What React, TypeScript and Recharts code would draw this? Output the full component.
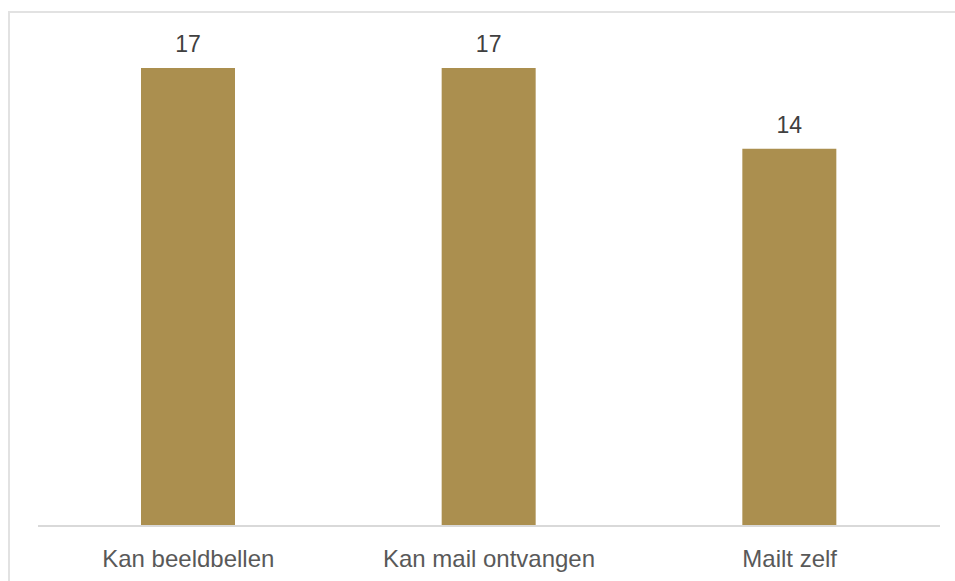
import { BarChart, Bar, XAxis, YAxis, LabelList } from "recharts";

const categories = ["Kan beeldbellen", "Kan mail ontvangen", "Mailt zelf"];
const values = [17, 17, 14];

const data = categories.map((name, i) => ({ name, value: values[i] }));

const FONT = "'Liberation Sans', Arial, Helvetica, sans-serif";

export default function App() {
  return (
    <div
      style={{
        position: "absolute",
        left: 0,
        top: 0,
        width: 955,
        height: 581,
        overflow: "hidden",
        background: "#fff",
      }}
    >
      <div
        style={{
          position: "absolute",
          left: 8,
          top: 11,
          width: 1000,
          height: 700,
          border: "2px solid #e2e2e2",
          boxSizing: "border-box",
        }}
      />
      <div style={{ position: "absolute", left: 0, top: 0 }}>
        <BarChart
          width={955}
          height={581}
          data={data}
          margin={{ top: 41, right: 15, left: 38, bottom: 5 }}
          barCategoryGap={0}
        >
          <XAxis
            dataKey="name"
            axisLine={{ stroke: "#d9d9d9", strokeWidth: 2 }}
            tickLine={false}
            tickSize={0}
            tickMargin={24}
            height={50}
            tick={{ fill: "#595959", fontSize: 24, fontFamily: FONT }}
          />
          <YAxis hide domain={[0, 18]} width={0} />
          <Bar
            dataKey="value"
            fill="#ab8f4f"
            barSize={94}
            isAnimationActive={false}
          >
            <LabelList
              dataKey="value"
              position="top"
              offset={16}
              style={{ fill: "#404040", fontSize: 23, fontFamily: FONT }}
            />
          </Bar>
        </BarChart>
      </div>
    </div>
  );
}
